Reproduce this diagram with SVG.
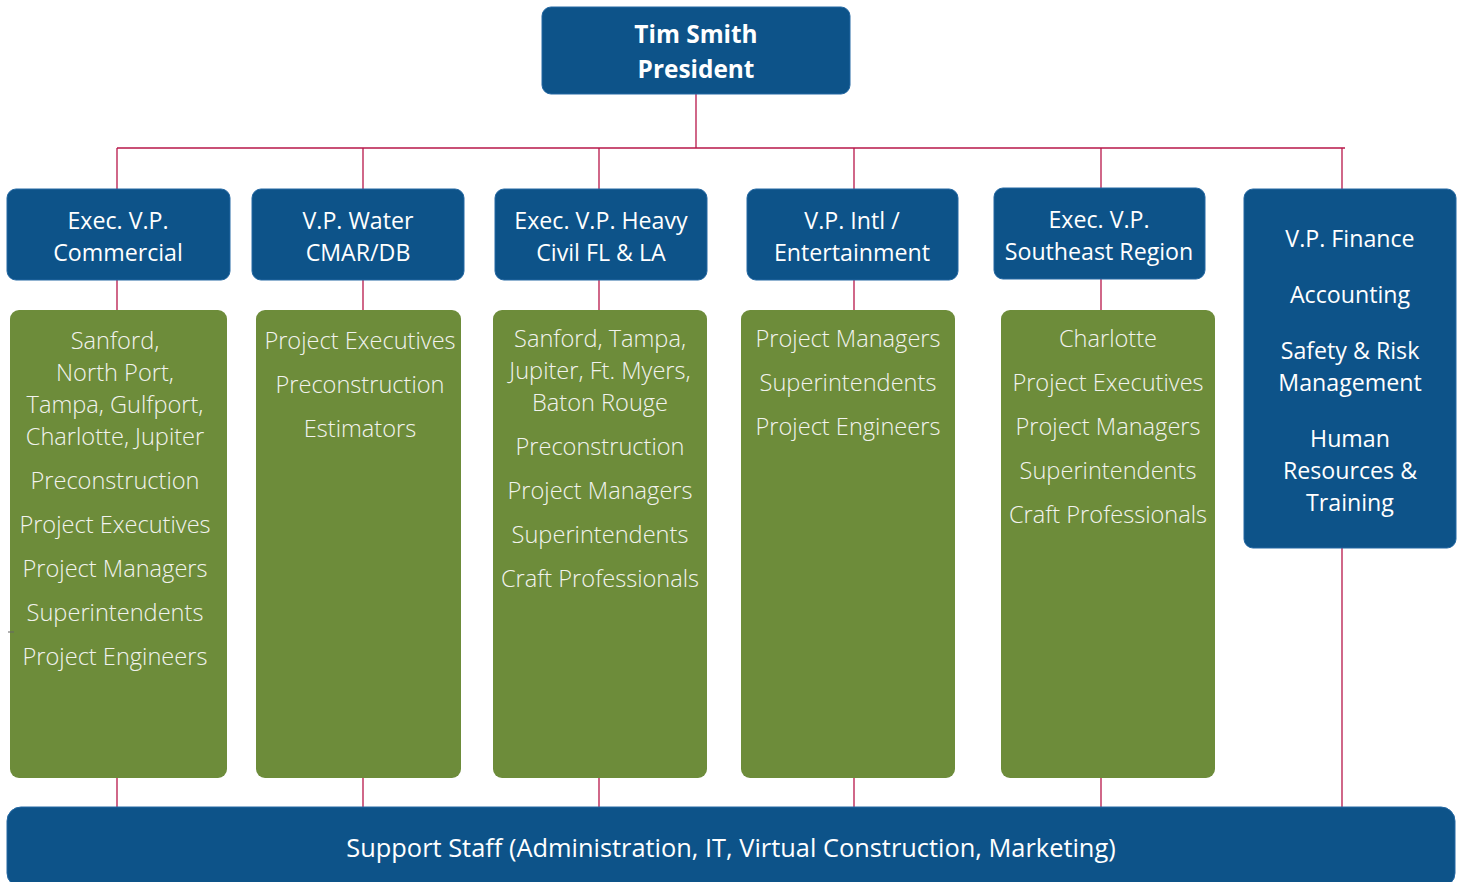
<svg xmlns="http://www.w3.org/2000/svg" width="1464" height="882" viewBox="0 0 1464 882">
<style>
.blue{fill:#0d5389;stroke:#2468a3;stroke-width:1}
.green{fill:#6d8c3a}
.bt{font-family:"Open Sans","Noto Sans",sans-serif;font-size:23.2px;fill:#ffffff;text-anchor:middle}
.tt{font-family:"Open Sans","Noto Sans",sans-serif;font-size:24.4px;font-weight:bold;fill:#ffffff;text-anchor:middle}
.gt{font-family:"Open Sans","Noto Sans",sans-serif;font-size:23.6px;font-weight:300;fill:#f2f3ee;text-anchor:middle}
.st{font-family:"Open Sans","Noto Sans",sans-serif;font-size:25.4px;fill:#ffffff;text-anchor:middle}
.ln{stroke:#b8174a;stroke-width:1.3;fill:none}
</style>
<rect width="1464" height="882" fill="#ffffff"/>
<g id="connectors">
<path class="ln" d="M696 94V148M117 148H1345M117 148V189M363 148V189M599 148V189M854 148V189M1101 148V188M1342 148V189"/>
<path class="ln" d="M117 280V310M363 280V310M599 280V310M854 280V310M1101 279V310"/>
<path class="ln" d="M117 778V807M363 778V807M599 778V807M854 778V807M1101 778V807M1342 548V807"/>
</g>
<g id="president">
<rect class="blue" x="542" y="7" width="308" height="87" rx="9"/>
<text class="tt" x="696" y="43">Tim Smith</text>
<text class="tt" x="696" y="78">President</text>
</g>
<g id="evp-commercial">
<rect class="blue" x="7" y="189" width="223" height="91" rx="9"/>
<text class="bt" x="118" y="229">Exec. V.P.</text>
<text class="bt" x="118" y="261">Commercial</text>
</g>
<g id="vp-water">
<rect class="blue" x="252" y="189" width="212" height="91" rx="9"/>
<text class="bt" x="358" y="229">V.P. Water</text>
<text class="bt" x="358" y="261">CMAR/DB</text>
</g>
<g id="evp-heavy">
<rect class="blue" x="495" y="189" width="212" height="91" rx="9"/>
<text class="bt" x="601" y="229">Exec. V.P. Heavy</text>
<text class="bt" x="601" y="261">Civil FL &amp; LA</text>
</g>
<g id="vp-intl">
<rect class="blue" x="747" y="189" width="211" height="91" rx="9"/>
<text class="bt" x="852" y="229">V.P. Intl /</text>
<text class="bt" x="852" y="261">Entertainment</text>
</g>
<g id="evp-southeast">
<rect class="blue" x="994" y="188" width="211" height="91" rx="9"/>
<text class="bt" x="1099" y="228">Exec. V.P.</text>
<text class="bt" x="1099" y="260">Southeast Region</text>
</g>
<g id="vp-finance">
<rect class="blue" x="1244" y="189" width="212" height="359" rx="9"/>
<text class="bt" x="1350" y="247">V.P. Finance</text>
<text class="bt" x="1350" y="303">Accounting</text>
<text class="bt" x="1350" y="359">Safety &amp; Risk</text>
<text class="bt" x="1350" y="391">Management</text>
<text class="bt" x="1350" y="447">Human</text>
<text class="bt" x="1350" y="479">Resources &amp;</text>
<text class="bt" x="1350" y="511">Training</text>
</g>
<g id="commercial-staff">
<rect class="green" x="10" y="310" width="217" height="468" rx="9"/>
<text class="gt" x="115" y="349">Sanford,</text>
<text class="gt" x="115" y="381">North Port,</text>
<text class="gt" x="115" y="413">Tampa, Gulfport,</text>
<text class="gt" x="115" y="445">Charlotte, Jupiter</text>
<text class="gt" x="115" y="489">Preconstruction</text>
<text class="gt" x="115" y="533">Project Executives</text>
<text class="gt" x="115" y="577">Project Managers</text>
<text class="gt" x="115" y="621">Superintendents</text>
<text class="gt" x="115" y="665">Project Engineers</text>
</g>
<g id="water-staff">
<rect class="green" x="256" y="310" width="205" height="468" rx="9"/>
<text class="gt" x="360" y="349">Project Executives</text>
<text class="gt" x="360" y="393">Preconstruction</text>
<text class="gt" x="360" y="437">Estimators</text>
</g>
<g id="heavy-staff">
<rect class="green" x="493" y="310" width="214" height="468" rx="9"/>
<text class="gt" x="600" y="347">Sanford, Tampa,</text>
<text class="gt" x="600" y="379">Jupiter, Ft. Myers,</text>
<text class="gt" x="600" y="411">Baton Rouge</text>
<text class="gt" x="600" y="455">Preconstruction</text>
<text class="gt" x="600" y="499">Project Managers</text>
<text class="gt" x="600" y="543">Superintendents</text>
<text class="gt" x="600" y="587">Craft Professionals</text>
</g>
<g id="intl-staff">
<rect class="green" x="741" y="310" width="214" height="468" rx="9"/>
<text class="gt" x="848" y="347">Project Managers</text>
<text class="gt" x="848" y="391">Superintendents</text>
<text class="gt" x="848" y="435">Project Engineers</text>
</g>
<g id="southeast-staff">
<rect class="green" x="1001" y="310" width="214" height="468" rx="9"/>
<text class="gt" x="1108" y="347">Charlotte</text>
<text class="gt" x="1108" y="391">Project Executives</text>
<text class="gt" x="1108" y="435">Project Managers</text>
<text class="gt" x="1108" y="479">Superintendents</text>
<text class="gt" x="1108" y="523">Craft Professionals</text>
</g>
<g id="support-staff">
<rect class="blue" x="7" y="807" width="1448" height="80" rx="14"/>
<text class="st" x="731" y="857">Support Staff (Administration, IT, Virtual Construction, Marketing)</text>
</g>
<path d="M8 632H14" stroke="#666666" stroke-width="1"/>
</svg>
